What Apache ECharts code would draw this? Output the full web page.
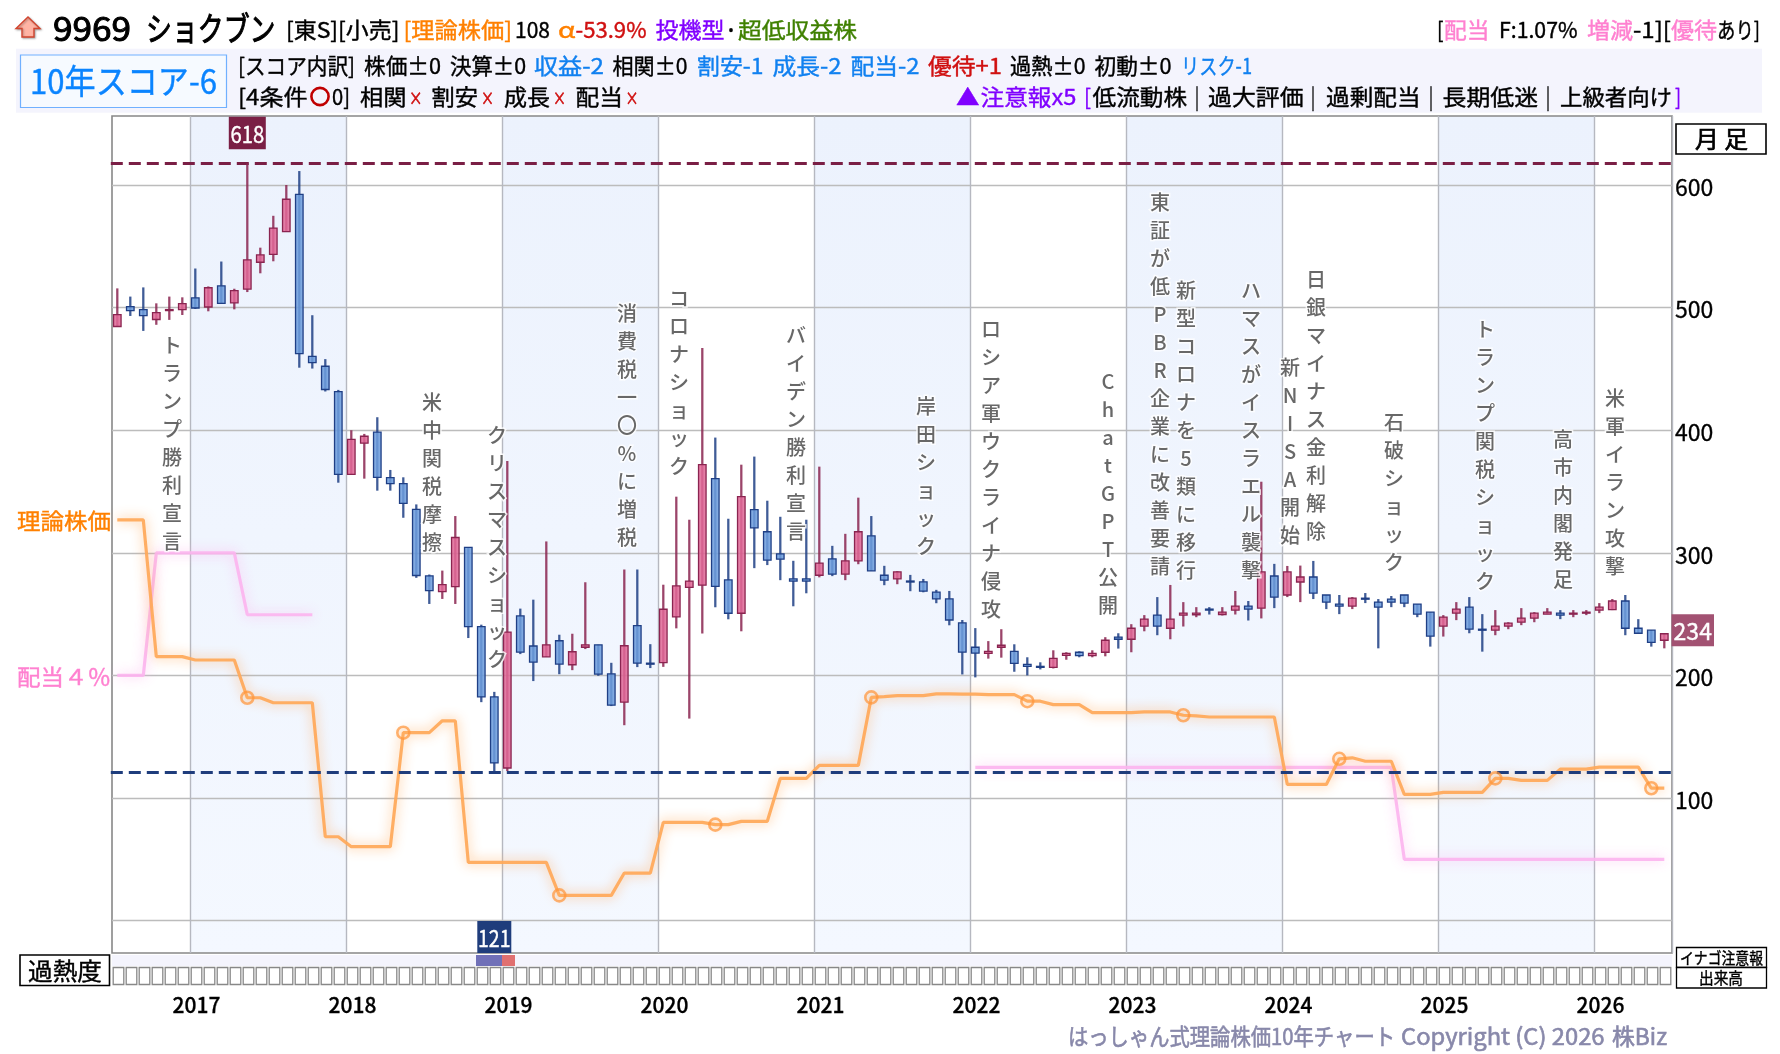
<!DOCTYPE html>
<html lang="ja">
<head>
<meta charset="utf-8">
<title>9969 ショクブン 10年チャート</title>
<script src="https://cdn.jsdelivr.net/npm/echarts@6/dist/echarts.min.js"></script>
<style>
html,body{margin:0;padding:0;background:#fff}
#chart{width:1780px;height:1054px}
</style>
</head>
<body>
<div id="chart"></div>
<script>
// Monthly bars, one row per calendar stretch of twelve months (Jul 2016 - Jun 2026)
const opens = [
  484.6,500.8,498.4,490.3,497.6,498.4,508,500.5,517.8,503.8,515.1,537,
  543.5,562,592.4,460.3,452.2,431.5,364,389.4,398.4,361.3,356.4,335.4,
  281.2,268.4,272.5,304.4,239.8,182.5,124.5,248.5,224,215.2,228.3,208.7,
  223,225,201.3,178.2,240.6,210,210.5,247.7,271.9,273.6,360.5,277.9,
  250.7,335.2,317.2,299.2,278.7,278.7,281.7,295,282.6,293.5,313.9,281.7,
  278.7,277,276.3,268,262.4,242.8,223,218,223,219.7,209,207.4,
  206.6,216.4,218.9,216.1,218.9,231.2,229.5,240.2,249.2,238.5,249.2,249.5,
  254.1,249.7,253.3,256.6,254.9,281.1,265.6,276.2,280.3,265.6,258.2,256.6,
  263,259.8,262.3,265.6,258.2,251.6,240.2,250.8,255.7,237.7,236.9,240.2,
  243.4,246.7,250,250.8,250,250.8,253.3,253.6,260.7,238.5,236.9,228.7
];
const closes = [
  494.3,497.6,493.5,495.9,498.4,503.2,499.7,516.2,503.5,513.8,538.9,543,
  564.9,588.4,462.4,455.1,433.2,364,392.6,395.1,361.6,356.4,340.3,281.5,
  269.2,274.1,312.5,239.8,182.5,128.6,235.4,219,210.9,225,209.3,219.3,
  225,201,175.7,224.2,210,209.6,254,273,277,372,272.7,250.7,
  345.8,320.4,294,294.8,277,277,291.6,282.6,293.5,317.2,285.3,277.7,
  284.5,276.3,268.7,262.4,245.2,219,218.2,219.7,224.6,209.8,207.4,206.8,
  213.9,218,216.1,218,228.7,229.5,238.5,245.9,240.2,245.9,250.8,250.8,
  253.3,251.6,256.6,254.1,284.4,263.9,284.4,280.3,267.2,259.8,256.6,263.1,
  262.3,255.7,259.8,259,250,232,247.5,254.1,237.7,236.9,240.2,242.6,
  246.7,250.8,251.6,249.2,250.8,251.6,255.7,260.7,238.5,234.4,227,234
];
const lows = [
  484.6,493.2,481,486,490,494,498.9,497,503,498.6,512.7,528,
  537.8,562,451,450.3,431.6,357.2,364,360.5,350.7,350.7,328.6,279.6,
  258.3,262.4,258.3,230.5,178.2,121,122,217.4,195.4,215.2,201,204.3,
  221.5,199.7,175,159.4,206.8,206,207,238.4,164.8,234.3,255.6,245.8,
  236,287.5,290,277.7,256.4,267,280,281,277.7,290.7,285.3,273.6,
  274.4,268.7,267.8,258.9,240.9,200.8,198.4,213.7,214.5,203,200,204.9,
  205.7,212.8,214.8,214.8,215.6,221.9,218.9,236,232.8,229.5,239.9,247.5,
  249.7,248.9,249.7,244.8,246.5,254.9,263.9,259.8,262.3,254.1,250,254.1,
  259,222.1,255.7,255.7,247.5,223.5,231.7,245.1,234.4,219.4,232.8,237.7,
  241,243.4,250,245.9,247.5,249.2,250.8,253.3,232.8,234.4,223.5,222.1
];
const highs = [
  515.7,509,516.5,503.5,509,508.4,531.9,517.3,537.6,515.4,618,548.9,
  574.9,600,611.4,493.8,458,432.9,400,397,410.6,367.6,361.6,339.5,
  282.3,285.5,330,304.4,241.4,186.6,374.9,254.5,261.8,309.3,233.2,234,
  276,225,210.3,286.4,286.4,225.5,274,345.8,327,467,394,327.8,
  371.9,378.5,342.5,329.4,293.5,327,370.3,305.7,315.5,345,330,289.4,
  285,282,278.7,269.8,268.9,245.2,238.6,228,237.7,225.4,214.8,210.7,
  220.5,218.9,219.7,220.5,231.2,234.4,241.8,249.2,263.9,273.8,259.8,255.7,
  255.7,255.7,268.9,260.7,358,291,289.3,289.6,293.4,265.6,265.6,263.9,
  267.2,262.3,264.8,265.6,258.2,251.6,249.2,259.8,263.9,250,253.3,243.4,
  254.9,251.6,254.9,253.3,253.3,253.3,259,262.3,265.6,245.9,236.9,234
];
// Theoretical price, monthly
const theoreticalPrice = [
  326.8,326.8,326.8,215.3,215.3,215.3,212.6,212.6,212.6,212.6,181.8,181.8,
  177.7,177.7,177.7,177.7,68.4,68.4,60.3,60.3,60.3,60.3,153.3,153.3,
  153.3,163,163,47.5,47.5,47.5,47.5,47.5,47.5,47.5,20.6,20.6,
  20.6,20.6,20.6,38.8,38.8,38.8,80.2,80.2,80.2,80.2,78.3,78.3,
  81,81,81,116,116,116,126.6,126.6,126.6,126.6,182.1,182.7,
  183.5,183.5,183.5,185,185,184.8,184.7,184.4,184.4,184.4,179,179,
  176.2,176.2,176.2,169.7,169.7,169.7,169.7,170.2,170.2,170.2,167.5,167,
  166.1,166.1,166.1,166.1,166.1,166.1,111.1,111.1,111.1,111.1,132,132.8,
  130,130,130,103,103,103,104.6,104.6,104.6,104.6,116,116,
  114.4,114.4,114.4,123.6,123.6,123.6,125.2,125.2,125.2,125.2,108,108
];
// Price implied by a 4% dividend yield; null where no dividend was paid
const dividendPrice = [
  200,200,200,300,300,300,300,300,300,300,249.5,249.5,
  249.5,249.5,249.5,249.5,null,null,null,null,null,null,null,null,
  null,null,null,null,null,null,null,null,null,null,null,null,
  null,null,null,null,null,null,null,null,null,null,null,null,
  null,null,null,null,null,null,null,null,null,null,null,null,
  null,null,null,null,null,null,125,125,125,125,125,125,
  125,125,125,125,125,125,125,125,125,125,125,125,
  125,125,125,125,125,125,125,125,125,125,125,125,
  125,125,125,50,50,50,50,50,50,50,50,50,
  50,50,50,50,50,50,50,50,50,50,50,50
];
// Months whose theoretical price was revised by full-year results
const resultMonths = [10,22,34,46,58,70,82,94,106,118];
// Heat row: cells flagged oversold (-1) or overbought (+1)
const heatCells = [[28,-1],[29,-1],[30,1]];
// Shaded calendar years
const shadedYears = [2017,2019,2021,2023,2025];
const priceTicks = [0,100,200,300,400,500,600];
// Market events and the price level where each column of text starts
const eventMonths = [4,24,29,39,43,52,62,67,76,80,82,87,90,92,98,105,111,115];
const eventNames = [
  'トランプ勝利宣言','米中関税摩擦','クリスマスショック','消費税一〇%に増税','コロナショック',
  'バイデン勝利宣言','岸田ショック','ロシア軍ウクライナ侵攻','ChatGPT公開','東証が低PBR企業に改善要請',
  '新型コロナを5類に移行','ハマスがイスラエル襲撃','新NISA開始','日銀マイナス金利解除','石破ショック',
  'トランプ関税ショック','高市内閣発足','米軍イラン攻撃'
];
const eventLevels = [480.9,433.8,407.5,507,519.2,488.5,430.6,493.7,451.6,597.6,525.8,525.8,463,534.8,417.4,493.4,404.3,437.1];

const months = [];
for (let i = 0; i < 120; i++) {
  const m = (i + 6) % 12, y = 2016 + Math.floor((i + 6) / 12);
  months.push(y + '/' + String(m + 1).padStart(2, '0'));
}
const isJanuary = (i, name) => String(name).endsWith('/01');
const FONT = '"Noto Sans CJK JP","Noto Sans",sans-serif';
const Y_MIN = -26.4, Y_MAX = 656.3;
const RED = '#8a2450', BLUE = '#1f3f85', NAVY = '#1f3d7c', WINE = '#7a1f45';
const ORANGE = 'rgba(255,168,88,0.92)', PINK = 'rgba(252,180,238,0.9)';

const highPrice = Math.max(...highs), lowPrice = Math.min(...lows);
const highIndex = highs.indexOf(highPrice), lowIndex = lows.indexOf(lowPrice);
const lastPrice = closes[closes.length - 1];

// Header text: text, left, right, centre y, font size, colour.
// Each run is squeezed to its box so the narrow UI look carries over.
const K = '#000', OR = '#ff8000', R = '#d01010', P = '#8000ff', G = '#3f8000', B = '#1080f0', PK = '#ff80d0';
const headerRuns = [
  ['9969',53,131,28,33,K,1],['ショクブン',146,275.5,28,33,K,1],
  ['[東S][小売]',286,399.5,30,22,K],['[理論株価]',403.5,512,30,22,OR],
  ['108',515,550,30,22,K],['α',558,575.5,30,22,OR],['-53.9%',575.5,646.5,30,22,R],
  ['投機型',655.5,724.5,30,22,P],['･',726,736,30,22,K],['超低収益株',738,857,30,22,G],
  ['[',1437,1443.5,30,22,K],['配当',1444,1489.5,30,22,PK],['F:1.07%',1499,1577.5,30,22,K],
  ['増減',1587,1633,30,22,PK],['-1][',1633,1671,30,22,K],['優待',1671,1717,30,22,PK],['あり]',1717,1760,30,22,K],

  ['[スコア内訳]',238,355,65.5,22,K],['株価±0',364,441,65.5,22,K],['決算±0',450,526,65.5,22,K],
  ['収益-2',534,604,65.5,22,B],['相関±0',612.5,687.5,65.5,22,K],['割安-1',697,763.5,65.5,22,B],
  ['成長-2',772.5,841.5,65.5,22,B],['配当-2',850.5,919.5,65.5,22,B],['優待+1',928,1002,65.5,22,R],
  ['過熱±0',1010,1085.5,65.5,22,K],['初動±0',1094.5,1171.5,65.5,22,K],['リスク-1',1181,1252,65.5,22,B],

  ['[4条件',238,307.5,96.5,22,K],['0]',332,350,96.5,22,K],
  ['相関',360,406.5,96.5,22,K],['×',409,422.5,98,18,R,0.7],['割安',431.5,478,96.5,22,K],['×',481,494,98,18,R,0.7],
  ['成長',504,550,96.5,22,K],['×',553,566,98,18,R,0.7],['配当',575.5,623,96.5,22,K],['×',625.5,638.5,98,18,R,0.7],
  ['▲',956,979.5,96.5,22,P],['注意報x5',980.5,1076.5,96.5,22,P],['[',1084,1091,96.5,22,P],
  ['低流動株',1092.5,1187,96.5,22,K],['|',1195,1199,96.5,22,K],['過大評価',1208,1303.5,96.5,22,K],['|',1311,1315,96.5,22,K],
  ['過剰配当',1326,1420.5,96.5,22,K],['|',1429,1433,96.5,22,K],['長期低迷',1442.5,1538,96.5,22,K],['|',1546,1550,96.5,22,K],
  ['上級者向け',1560,1672,96.5,22,K],[']',1675,1681,96.5,22,P],

  ['10年スコア-6',30,217,81,34,'#0a84ff'],
  ['理論株価',17,111,521,22,OR],['配当４％',17,111,677,22,PK],
  ['月 足',1695,1748,139,24,K,0.7],['過熱度',28,102,971,24,K],
  ['イナゴ注意報',1680,1763,957.5,16,K],['出来高',1699,1743,978,16,K],
  ['はっしゃん式理論株価10年チャート',1068,1395,1036.5,23,'#8888aa',0.6],
  ['Copyright (C) 2026',1401,1604.5,1036.5,23,'#8888aa',0.6],['株Biz',1612,1667,1036.5,23,'#8888aa',0.6]
];
const meter = document.createElement('canvas').getContext('2d');
function fitted(run) {
  const [text, x0, x1, cy, size, fill, heavy] = run;
  meter.font = size + 'px ' + FONT;
  return {
    type: 'text', x: x0, y: cy, scaleX: (x1 - x0) / meter.measureText(text).width, z: 30,
    style: { text, fontFamily: FONT, fontSize: size, fill, stroke: fill, lineWidth: heavy || 0.4, align: 'left', verticalAlign: 'middle' }
  };
}
const frameBox = (x, y, w, h, stroke, lw, fill) => ({
  type: 'rect', z: 20, shape: { x, y, width: w, height: h },
  style: { fill: fill || '#fff', stroke, lineWidth: lw }
});
const graphicItems = [
  { type: 'rect', z: 10, shape: { x: 16, y: 48.7, width: 1746, height: 64 }, style: { fill: '#f4f4fd' } },
  frameBox(20.5, 55, 206, 52.5, '#70b0ff', 1.2, '#f6faff'),
  frameBox(1676, 124, 90, 30, '#000', 1.6),
  frameBox(20, 955, 89.5, 30.5, '#000', 1.6),
  frameBox(1676.5, 947.5, 90, 20, '#000', 1.3),
  frameBox(1676.5, 967.5, 90, 20.5, '#000', 1.3),
  { type: 'polygon', z: 21, shape: { points: [[28,17],[40,28.5],[34,28.5],[34,37],[22,37],[22,28.5],[16,28.5]] },
    style: { fill: '#ffb4a4', stroke: '#d2452f', lineWidth: 1.4, shadowColor: 'rgba(0,0,0,0.3)', shadowBlur: 2, shadowOffsetX: 1, shadowOffsetY: 1 } },
  { type: 'circle', z: 30, shape: { cx: 320, cy: 96.5, r: 8.6 }, style: { fill: 'none', stroke: '#c00000', lineWidth: 2.6 } }
].concat(headerRuns.map(fitted));

function renderBand(params, api) {
  const sz = api.size([1, 0])[0];
  const a = api.coord([api.value(0), Y_MAX]);
  const b = api.coord([api.value(1), Y_MIN]);
  return {
    type: 'rect',
    shape: { x: a[0] - sz / 2, y: a[1], width: b[0] - a[0] + sz, height: b[1] - a[1] },
    style: { fill: { type: 'linear', x: 0, y: 0, x2: 0, y2: 1,
      colorStops: [{ offset: 0, color: '#ecf2fd' }, { offset: 0.5, color: '#f0f5fe' }, { offset: 1, color: '#f4f8ff' }] } }
  };
}
function renderCandle(params, api) {
  const idx = api.value(0), open = api.value(1), close = api.value(2), low = api.value(3), high = api.value(4);
  const up = close >= open;
  const x = api.coord([idx, 0])[0];
  const w = api.size([1, 0])[0] * 0.58;
  const top = api.coord([idx, Math.max(open, close)])[1];
  const bot = api.coord([idx, Math.min(open, close)])[1];
  const hi = api.coord([idx, high])[1], lo = api.coord([idx, low])[1];
  const edge = up ? RED : BLUE;
  return {
    type: 'group',
    children: [
      { type: 'rect', shape: { x: x - 1.15, y: hi, width: 2.3, height: lo - hi }, style: { fill: edge, opacity: 0.85 } },
      { type: 'rect', shape: { x: x - w / 2, y: top, width: w, height: Math.max(bot - top, 1) },
        style: { fill: up ? 'rgba(224,104,150,0.86)' : 'rgba(108,156,220,0.86)', stroke: edge, lineWidth: 1.3 } }
    ]
  };
}
function renderHeat(params, api) {
  const state = api.value(1);
  const x = api.coord([api.value(0), 0])[0];
  const sz = api.size([1, 0])[0];
  const grid = params.coordSys;
  const fill = state < 0 ? '#7070b8' : state > 0 ? '#e07070' : '#f4f4fd';
  return {
    type: 'group',
    children: [
      { type: 'rect', shape: { x: x - sz / 2, y: grid.y, width: sz, height: 11 }, style: { fill } },
      { type: 'rect', shape: { x: x - sz / 2 + 1.2, y: grid.y + 12.5, width: sz - 2.4, height: 17 },
        style: { fill: '#fff', stroke: '#888', lineWidth: 1.3 } }
    ]
  };
}
function renderTag(params, api) {
  const kind = api.value(2);
  const at = api.coord([api.value(0), api.value(1)]);
  const grid = params.coordSys;
  const tags = {
    high: { x: at[0] - 18.5, y: grid.y + 0.7, w: 37, h: 32.5, fill: WINE, sx: 0.88 },
    low:  { x: at[0] - 17, y: grid.y + grid.height - 32, w: 34, h: 32, fill: NAVY, sx: 0.85 },
    last: { x: grid.x + grid.width + 0.7, y: at[1] - 19.5, w: 42.5, h: 32, fill: '#a25272', sx: 1 }
  };
  const t = tags[kind];
  return {
    type: 'group',
    children: [
      { type: 'rect', shape: { x: t.x, y: t.y, width: t.w, height: t.h }, style: { fill: t.fill } },
      { type: 'text', x: t.x + t.w / 2, y: t.y + t.h / 2 + 1, scaleX: t.sx,
        style: { text: String(api.value(3)), fontFamily: FONT, fontSize: 23, fill: '#fff', stroke: '#fff', lineWidth: 0.4, align: 'center', verticalAlign: 'middle' } }
    ]
  };
}

const heatData = months.map((m, i) => {
  const hit = heatCells.find(c => c[0] === i);
  return [i, hit ? hit[1] : 0];
});
const glow = c => ({ color: c, width: 3.2, shadowColor: c, shadowBlur: 12 });

const chart = echarts.init(document.getElementById('chart'), null, { renderer: 'canvas' });
chart.setOption({
  animation: false,
  backgroundColor: '#fff',
  graphic: graphicItems,
  grid: [
    { left: 112, top: 116, width: 1560, height: 837, show: true, backgroundColor: 'transparent', borderColor: '#888', borderWidth: 1.6 },
    { left: 110.8, top: 116, width: 1560, height: 837 },
    { left: 112, top: 955, width: 1560, height: 30 }
  ],
  xAxis: [
    { type: 'category', gridIndex: 0, data: months, boundaryGap: true,
      axisLine: { show: false },
      axisTick: { show: false, interval: isJanuary },
      splitLine: { show: true, interval: isJanuary, lineStyle: { color: '#b6b8c0', width: 1.4 } },
      axisLabel: { interval: isJanuary, margin: 42, color: '#000', fontFamily: FONT, fontSize: 21, fontWeight: 500,
        textBorderColor: '#000', textBorderWidth: 0.3, formatter: v => v.slice(0, 4) } },
    { type: 'category', gridIndex: 1, data: months, boundaryGap: true, show: false },
    { type: 'category', gridIndex: 2, data: months, boundaryGap: true, show: false }
  ],
  yAxis: [
    { type: 'value', gridIndex: 0, position: 'right', min: Y_MIN, max: Y_MAX,
      axisLine: { show: false },
      axisTick: { show: false, customValues: priceTicks },
      splitLine: { show: true, lineStyle: { color: '#bcbcbc', width: 1.4 } },
      axisLabel: { customValues: priceTicks.slice(1), margin: 3, color: '#000',
        formatter: v => '{p|' + v + '}',
        rich: { p: { padding: [4, 0, 0, 0], fontFamily: FONT, fontSize: 23, color: '#000', textBorderColor: '#000', textBorderWidth: 0.3 } } } },
    { type: 'value', gridIndex: 1, min: Y_MIN, max: Y_MAX, show: false },
    { type: 'value', gridIndex: 2, min: 0, max: 1, show: false }
  ],
  series: [
    { name: '年帯', type: 'custom', xAxisIndex: 0, yAxisIndex: 0, z: -1, silent: true, renderItem: renderBand,
      encode: { x: [0, 1] },
      data: shadedYears.map(y => [months.indexOf(y + '/01'), months.indexOf(y + '/12')]) },
    { name: '配当', type: 'line', xAxisIndex: 1, yAxisIndex: 1, z: 3, data: dividendPrice, showSymbol: false, connectNulls: false, lineStyle: glow(PINK) },
    { name: '理論株価', type: 'line', xAxisIndex: 1, yAxisIndex: 1, z: 4, data: theoreticalPrice, showSymbol: false, lineStyle: glow(ORANGE) },
    { name: '決算', type: 'scatter', xAxisIndex: 1, yAxisIndex: 1, z: 5, symbolSize: 12,
      itemStyle: { color: 'rgba(255,160,72,0.12)', borderColor: 'rgba(255,150,60,0.9)', borderWidth: 2.6 },
      data: resultMonths.map(i => [i, theoreticalPrice[i]]) },
    { name: '月足', type: 'custom', xAxisIndex: 1, yAxisIndex: 1, z: 6, renderItem: renderCandle,
      encode: { x: 0, y: [1, 2, 3, 4] },
      data: months.map((m, i) => [i, opens[i], closes[i], lows[i], highs[i]]) },
    { name: '価格表示', type: 'custom', xAxisIndex: 1, yAxisIndex: 1, z: 8, renderItem: renderTag,
      encode: { x: 0, y: 1 },
      data: [[highIndex, highPrice, 'high', Math.round(highPrice)],
             [lowIndex, lowPrice, 'low', Math.round(lowPrice)],
             [months.length - 1, lastPrice, 'last', Math.round(lastPrice)]],
      markLine: { silent: true, symbol: 'none', label: { show: false }, z: 5,
        data: [
          { yAxis: highPrice, lineStyle: { color: WINE, width: 3, type: [12, 6], opacity: 1 } },
          { yAxis: lowPrice, lineStyle: { color: NAVY, width: 3, type: [12, 6], opacity: 1 } }
        ] } },
    { name: '出来事', type: 'scatter', xAxisIndex: 0, yAxisIndex: 0, z: 9, symbolSize: 0, silent: true,
      data: eventMonths.map((k, i) => ({ value: [k, eventLevels[i]], name: eventNames[i] })),
      label: { show: true, position: 'bottom', distance: 0, offset: [1.5, 0],
        formatter: p => Array.from(p.name).join('\n'),
        fontFamily: FONT, fontSize: 20, fontWeight: 500, lineHeight: 28, color: '#424242', align: 'center',
        textBorderColor: '#fff', textBorderWidth: 3 } },
    { name: '過熱度', type: 'custom', xAxisIndex: 2, yAxisIndex: 2, silent: true, renderItem: renderHeat,
      encode: { x: 0, y: -1 }, data: heatData }
  ]
});
</script>
</body>
</html>
